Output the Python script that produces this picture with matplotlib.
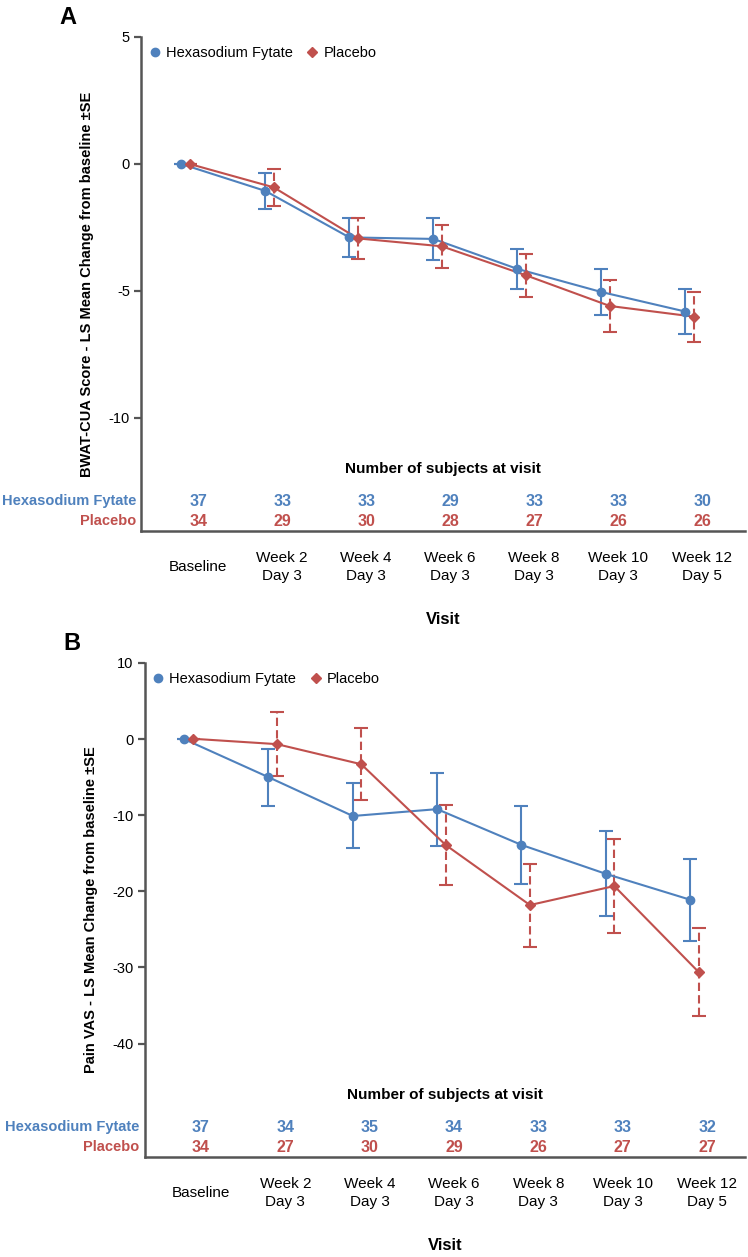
import matplotlib
matplotlib.use("Agg")
import matplotlib.pyplot as plt
import numpy as np

plt.rcParams["font.family"] = ["Liberation Sans", "DejaVu Sans"]

BLUE = "#4F81BD"
RED = "#C0504D"
SPINE = "#555555"

visits = ["Baseline", "Week 2\nDay 3", "Week 4\nDay 3", "Week 6\nDay 3",
          "Week 8\nDay 3", "Week 10\nDay 3", "Week 12\nDay 5"]

# panel A - BWAT-CUA
bwat_hex = [0.0, -1.06, -2.89, -2.95, -4.13, -5.04, -5.81]
bwat_hex_se = [0.0, 0.70, 0.76, 0.82, 0.80, 0.90, 0.88]
bwat_pbo = [0.0, -0.92, -2.93, -3.24, -4.38, -5.59, -6.01]
bwat_pbo_se = [0.0, 0.74, 0.81, 0.84, 0.84, 1.01, 0.98]
bwat_n_hex = [37, 33, 33, 29, 33, 33, 30]
bwat_n_pbo = [34, 29, 30, 28, 27, 26, 26]

# panel B - pain VAS
pain_hex = [0.0, -5.0, -10.1, -9.2, -13.9, -17.7, -21.1]
pain_hex_se = [0.0, 3.75, 4.27, 4.8, 5.1, 5.6, 5.4]
pain_pbo = [0.05, -0.66, -3.3, -13.9, -21.8, -19.3, -30.6]
pain_pbo_se = [0.0, 4.2, 4.7, 5.3, 5.45, 6.2, 5.75]
pain_n_hex = [37, 34, 35, 34, 33, 33, 32]
pain_n_pbo = [34, 27, 30, 29, 26, 27, 27]

fig = plt.figure(figsize=(7.48, 12.57), dpi=100)
axA = fig.add_axes([141/748, 1 - 531/1257, 604/748, 494/1257])
axB = fig.add_axes([144.5/748, 1 - 1157/1257, 600.5/748, 494/1257])


def draw_panel(ax, letter, ylabel, hex_y, hex_se, pbo_y, pbo_se, n_hex, n_pbo,
               ylim, yticks, xlim):
    x = np.arange(len(visits))
    xh = x - 0.2
    xp = x - 0.1

    ax.plot(xh, hex_y, color=BLUE, lw=1.5, zorder=3)
    ax.plot(xp, pbo_y, color=RED, lw=1.5, zorder=3)
    ax.errorbar(xh, hex_y, yerr=hex_se, fmt="none", ecolor=BLUE,
                elinewidth=1.5, capsize=4.7, capthick=1.5, zorder=2)
    eb2 = ax.errorbar(xp, pbo_y, yerr=pbo_se, fmt="none", ecolor=RED,
                      elinewidth=1.5, capsize=4.7, capthick=1.5, zorder=2)
    eb2[2][0].set_linestyle((0, (4, 2)))
    ax.plot(xh, hex_y, "o", color=BLUE, ms=6, zorder=4,
            label="Hexasodium Fytate")
    ax.plot(xp, pbo_y, "D", color=RED, ms=5, zorder=4, label="Placebo")

    ax.set_xlim(*xlim)
    ax.set_ylim(*ylim)
    ax.set_yticks(yticks)
    ax.set_yticklabels([str(t) for t in yticks], fontsize=10.5)
    ax.set_xticks(x)
    ax.set_xticklabels(visits, fontsize=11, linespacing=1.3)
    for t in ax.get_xticklabels():
        t.set_va("center")
    ax.tick_params(axis="x", length=0, pad=26)
    ax.tick_params(axis="y", length=5, width=1.6, color=SPINE, pad=3)

    for s in ["top", "right"]:
        ax.spines[s].set_visible(False)
    for s in ["left", "bottom"]:
        ax.spines[s].set_color(SPINE)
        ax.spines[s].set_linewidth(1.8)

    ax.set_ylabel(ylabel, fontsize=10.5, fontweight="bold")
    ax.yaxis.set_label_coords(-0.089, 0.5)
    ax.yaxis.label.set_va("center")
    ax.set_xlabel("Visit", fontsize=12, fontweight="bold")
    ax.xaxis.set_label_coords(0.5, -89/494)
    ax.xaxis.label.set_va("center")

    # subject counts table inside the plot area
    tr = ax.get_xaxis_transform()
    ax.text(0.5, 62/494, "Number of subjects at visit", transform=ax.transAxes,
            ha="center", va="center", fontsize=11, fontweight="bold")
    for i in range(len(visits)):
        ax.text(x[i], 30/494, str(n_hex[i]), transform=tr, ha="center",
                va="center", color=BLUE, fontsize=11.5, fontweight="bold")
        ax.text(x[i], 10/494, str(n_pbo[i]), transform=tr, ha="center",
                va="center", color=RED, fontsize=11.5, fontweight="bold")
    ax.text(-0.008, 30/494, "Hexasodium Fytate", transform=ax.transAxes,
            ha="right", va="center", color=BLUE, fontsize=10.5, fontweight="bold")
    ax.text(-0.008, 10/494, "Placebo", transform=ax.transAxes,
            ha="right", va="center", color=RED, fontsize=10.5, fontweight="bold")

    ax.legend(loc="upper left", bbox_to_anchor=(0.0, 1.0), frameon=False,
              ncol=2, fontsize=10.5, handlelength=0.7, handletextpad=0.4,
              columnspacing=1.0, borderpad=0.3, borderaxespad=0.3)

    ax.text(-73/604, 1 + 20/494, letter, transform=ax.transAxes, ha="center",
            va="center", fontsize=17, fontweight="bold")


draw_panel(axA, "A", "BWAT-CUA Score - LS Mean Change from baseline \u00b1SE",
           bwat_hex, bwat_hex_se, bwat_pbo, bwat_pbo_se, bwat_n_hex, bwat_n_pbo,
           (-14.45, 5), [-10, -5, 0, 5], (-0.68, 6.51))
draw_panel(axB, "B", "Pain VAS - LS Mean Change from baseline \u00b1SE",
           pain_hex, pain_hex_se, pain_pbo, pain_pbo_se, pain_n_hex, pain_n_pbo,
           (-54.9, 10), [-40, -30, -20, -10, 0, 10], (-0.67, 6.45))

fig.savefig("out.png", dpi=100)
